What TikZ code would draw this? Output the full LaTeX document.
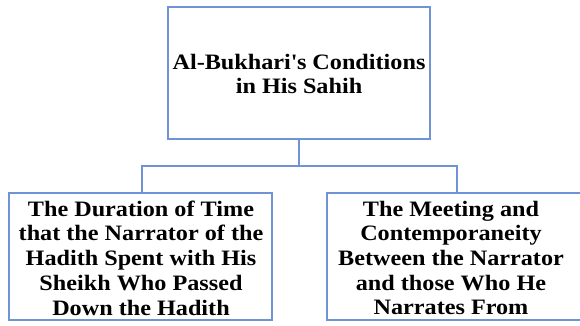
\documentclass[tikz,border=0pt]{standalone}
\usepackage{fontspec}
\setmainfont[FakeStretch=1.1]{Liberation Serif}
\definecolor{boxblue}{RGB}{112,146,214}
\begin{document}
\begin{tikzpicture}[x=1pt,y=-1pt,
  box/.style={draw=boxblue,line width=1.3pt},
  lbl/.style={align=center,font=\bfseries\fontsize{22}{24.7}\selectfont,inner sep=0pt},
  conn/.style={draw=boxblue,line width=1.3pt}]
\useasboundingbox (0,0) rectangle (580,325);
\clip (0,0) rectangle (580,325);
\fill[white] (0,0) rectangle (580,325);
\draw[box] (168,7) rectangle (430,139);
\draw[box] (9,193) rectangle (272,320);
\draw[box] (327,193) rectangle (590,320);
\coordinate (topb) at (299,139);
\coordinate (mid) at (299,166);
\coordinate (lj) at (142,166);
\coordinate (rj) at (457,166);
\coordinate (lt) at (142,193);
\coordinate (rt) at (457,193);
\node[lbl] (top) at (299,74) {Al-Bukhari\textquotesingle s Conditions\\in His Sahih};
\node[lbl] (left) at (141,258) {The Duration of Time\\that the Narrator of the\\Hadith Spent with His\\Sheikh Who Passed\\Down the Hadith};
\node[lbl] (right) at (451,258) {The Meeting and\\Contemporaneity\\Between the Narrator\\and those Who He\\Narrates From};
\draw[conn] (topb) -- (mid);
\draw[conn] (lt) -- (lj) -- (rj) -- (rt);
\end{tikzpicture}
\end{document}
